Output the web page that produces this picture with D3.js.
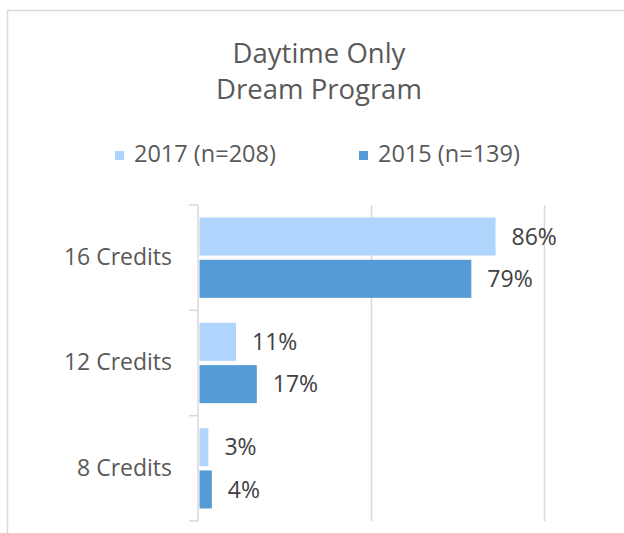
<!DOCTYPE html>
<html>
<head>
<meta charset="utf-8">
<script src="https://cdnjs.cloudflare.com/ajax/libs/d3/7.8.5/d3.min.js"></script>
<style>
    body { margin: 0; background: #fff; }
    text { font-family: "Open Sans", sans-serif; }
</style>
</head>
<body>
<div id="chart"></div>
<script>
    // data
    var categories = ["16 Credits", "12 Credits", "8 Credits"];
    var seriesNames = ["2017 (n=208)", "2015 (n=139)"];
    var values2017 = [0.86, 0.11, 0.03];
    var values2015 = [0.79, 0.17, 0.04];
    var gridTicks = [0.5, 1];
    var colors = ["#b0d5fc", "#559bd5"];

    var width = 624;
    var height = 533;

    var svg = d3.select("#chart")
        .append("svg")
        .attr("width", width)
        .attr("height", height);

    // chart frame, runs off the right and bottom edge
    svg.append("rect")
        .attr("x", 7.5)
        .attr("y", 10.5)
        .attr("width", 700)
        .attr("height", 600)
        .attr("fill", "none")
        .attr("stroke", "#d9d9d9")
        .attr("stroke-width", 1.5);

    // title
    var title = svg.append("text")
        .attr("text-anchor", "middle")
        .attr("fill", "#595959")
        .style("font-size", "27.5px");
    title.append("tspan").attr("x", 319).attr("y", 63).text("Daytime Only");
    title.append("tspan").attr("x", 319).attr("y", 99).text("Dream Program");

    // legend
    var legendX = [115, 359];
    var legend = svg.selectAll(".legend")
        .data(seriesNames)
        .enter().append("g")
        .attr("class", "legend")
        .attr("transform", function (d, i) { return "translate(" + legendX[i] + ",0)"; });
    legend.append("rect")
        .attr("x", 0)
        .attr("y", 151)
        .attr("width", 9)
        .attr("height", 9)
        .attr("fill", function (d, i) { return colors[i]; });
    legend.append("text")
        .attr("x", 19)
        .attr("y", 162)
        .attr("fill", "#595959")
        .style("font-size", "23.5px")
        .text(function (d) { return d; });

    // scales
    var x = d3.scaleLinear()
        .domain([0, 1])
        .range([198, 544]);

    var y = d3.scaleBand()
        .domain(categories)
        .range([205, 521])
        .padding(0);

    var ySeries = d3.scaleBand()
        .domain(seriesNames)
        .range([12.5, y.bandwidth() - 12.5])
        .paddingInner(0.1);

    // gridlines
    svg.append("g")
        .attr("transform", "translate(0,521)")
        .call(d3.axisBottom(x).tickValues(gridTicks).tickSize(-316).tickFormat(""))
        .call(function (g) { g.select(".domain").remove(); })
        .selectAll("line")
        .attr("stroke", "#d9d9d9")
        .attr("stroke-width", 1.5);

    // category axis, ticks on band boundaries
    var bounds = categories.map(function (c) { return y(c); }).concat([y.range()[1]]);
    svg.append("line")
        .attr("x1", 198).attr("x2", 198)
        .attr("y1", 205).attr("y2", 521)
        .attr("stroke", "#d9d9d9")
        .attr("stroke-width", 1.5);
    svg.selectAll(".sep")
        .data(bounds)
        .enter().append("line")
        .attr("class", "sep")
        .attr("x1", 189).attr("x2", 198)
        .attr("y1", function (d) { return d; })
        .attr("y2", function (d) { return d; })
        .attr("stroke", "#d9d9d9")
        .attr("stroke-width", 1.5);

    svg.append("g")
        .attr("transform", "translate(172,0)")
        .call(d3.axisLeft(y).tickSize(0).tickPadding(0))
        .call(function (g) { g.select(".domain").remove(); })
        .selectAll("text")
        .attr("fill", "#595959")
        .style("font-size", "23px")
        .style("font-family", "'Open Sans', sans-serif");

    // bars
    var rows = [];
    categories.forEach(function (c, i) {
        rows.push({ cat: c, series: seriesNames[0], value: values2017[i], color: colors[0] });
        rows.push({ cat: c, series: seriesNames[1], value: values2015[i], color: colors[1] });
    });

    svg.selectAll(".bar")
        .data(rows)
        .enter().append("rect")
        .attr("class", "bar")
        .attr("x", x(0) + 1.5)
        .attr("y", function (d) { return y(d.cat) + ySeries(d.series); })
        .attr("width", function (d) { return x(d.value) - x(0) - 1.5; })
        .attr("height", ySeries.bandwidth())
        .attr("fill", function (d) { return d.color; });

    svg.selectAll(".label")
        .data(rows)
        .enter().append("text")
        .attr("class", "label")
        .attr("x", function (d) { return x(d.value) + 16; })
        .attr("y", function (d) { return y(d.cat) + ySeries(d.series) + ySeries.bandwidth() / 2; })
        .attr("dy", "0.36em")
        .attr("fill", "#404040")
        .style("font-size", "23px")
        .text(function (d) { return Math.round(d.value * 100) + "%"; });
</script>
</body>
</html>
